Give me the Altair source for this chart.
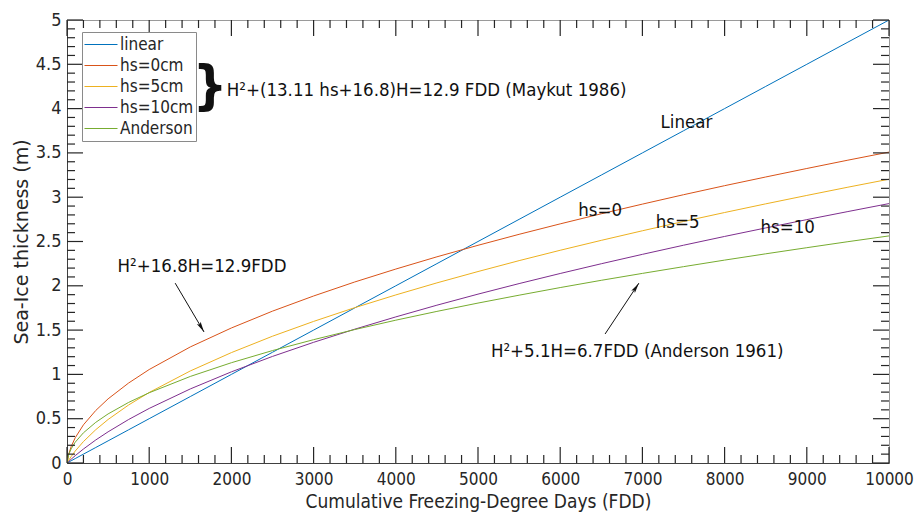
import altair as alt
import pandas as pd

# ---- data (FDD in degree-days, thickness in m) ----
fdd = [0, 20, 50, 100, 200, 350, 500, 750, 1000, 1500, 2000, 2500, 3000, 3500,
       4000, 4500, 5000, 5500, 6000, 6500, 7000, 7500, 8000, 8500, 9000, 9500, 10000]

linear = [0, 0.01, 0.025, 0.05, 0.1, 0.175, 0.25, 0.375, 0.5, 0.75, 1.0, 1.25, 1.5, 1.75,
          2.0, 2.25, 2.5, 2.75, 3.0, 3.25, 3.5, 3.75, 4.0, 4.25, 4.5, 4.75, 5.0]
hs0 = [0, 0.097, 0.184, 0.285, 0.431, 0.593, 0.724, 0.903, 1.055, 1.310, 1.524, 1.714, 1.885, 2.043,
       2.189, 2.327, 2.457, 2.581, 2.699, 2.813, 2.922, 3.028, 3.130, 3.228, 3.324, 3.418, 3.509]
hs5 = [0, 0.030, 0.072, 0.135, 0.242, 0.376, 0.491, 0.655, 0.796, 1.039, 1.246, 1.431, 1.598, 1.753,
       1.897, 2.033, 2.161, 2.284, 2.401, 2.513, 2.621, 2.726, 2.827, 2.925, 3.020, 3.113, 3.203]
hs10 = [0, 0.017, 0.042, 0.083, 0.158, 0.260, 0.352, 0.491, 0.616, 0.836, 1.029, 1.203, 1.362, 1.510,
        1.649, 1.781, 1.906, 2.025, 2.139, 2.249, 2.355, 2.458, 2.557, 2.653, 2.747, 2.838, 2.928]
anderson = [0, 0.093, 0.159, 0.235, 0.341, 0.459, 0.554, 0.684, 0.793, 0.977, 1.132, 1.269, 1.392, 1.506,
            1.612, 1.711, 1.805, 1.894, 1.980, 2.062, 2.140, 2.216, 2.290, 2.361, 2.430, 2.498, 2.563]

series_names = ["linear", "hs=0cm", "hs=5cm", "hs=10cm", "Anderson"]
series_vals = [linear, hs0, hs5, hs10, anderson]
series_colors = ["#0072BD", "#D95319", "#EDB120", "#7E2F8E", "#77AC30"]

x_major = [0, 1000, 2000, 3000, 4000, 5000, 6000, 7000, 8000, 9000, 10000]
x_minor = [200, 400, 600, 800, 1200, 1400, 1600, 1800, 2200, 2400, 2600, 2800, 3200, 3400, 3600,
           3800, 4200, 4400, 4600, 4800, 5200, 5400, 5600, 5800, 6200, 6400, 6600, 6800, 7200,
           7400, 7600, 7800, 8200, 8400, 8600, 8800, 9200, 9400, 9600, 9800]
y_major = [0, 0.5, 1, 1.5, 2, 2.5, 3, 3.5, 4, 4.5, 5]
y_minor = [0.1, 0.2, 0.3, 0.4, 0.6, 0.7, 0.8, 0.9, 1.1, 1.2, 1.3, 1.4, 1.6, 1.7, 1.8, 1.9,
           2.1, 2.2, 2.3, 2.4, 2.6, 2.7, 2.8, 2.9, 3.1, 3.2, 3.3, 3.4, 3.6, 3.7, 3.8, 3.9,
           4.1, 4.2, 4.3, 4.4, 4.6, 4.7, 4.8, 4.9]

# annotations (text, x in FDD, y in m)
ann_center_text = ["Linear", "hs=0", "hs=5", "hs=10", "H\u00b2+16.8H=12.9FDD"]
ann_center_x = [7536, 6486, 7428, 8768, 1643]
ann_center_y = [3.85, 2.856, 2.72, 2.66, 2.22]

ann_left_text = ["H\u00b2+(13.11 hs+16.8)H=12.9 FDD (Maykut 1986)", "H\u00b2+5.1H=6.7FDD (Anderson 1961)"]
ann_left_x = [1944, 5157]
ann_left_y = [4.21, 1.264]

brace_text = ["}"]
brace_x = [1739]
brace_y = [4.23]

arrow_x0 = [1316, 6546]
arrow_y0 = [2.03, 1.456]
arrow_x1 = [1667, 6957]
arrow_y1 = [1.479, 2.03]
arrow_angle = [149.4, 33.7]

# ---- build tables ----
rows = []
for name, vals in zip(series_names, series_vals):
    for f, h in zip(fdd, vals):
        rows.append({"FDD": f, "H": h, "series": name})
df = pd.DataFrame(rows)

W, H = 822, 443
X_MAX, Y_MAX = 10000, 5
FONT_C = "DejaVu Sans Condensed"
XS = alt.Scale(domain=[0, X_MAX], nice=False, zero=False)
YS = alt.Scale(domain=[0, Y_MAX], nice=False, zero=False)
TICK_COL = "#262626"
MAJ, MIN = 16, 8  # tick lengths in px

# inward tick segments on all four sides, expressed in data units
seg = []
for vals, length in ((x_major, MAJ), (x_minor, MIN)):
    dy = length * Y_MAX / H
    for v in vals:
        seg.append({"tx0": v, "tx1": v, "ty0": 0, "ty1": dy})
        seg.append({"tx0": v, "tx1": v, "ty0": Y_MAX, "ty1": Y_MAX - dy})
for vals, length in ((y_major, MAJ), (y_minor, MIN)):
    dx = length * X_MAX / W
    for v in vals:
        seg.append({"tx0": 0, "tx1": dx, "ty0": v, "ty1": v})
        seg.append({"tx0": X_MAX, "tx1": X_MAX - dx, "ty0": v, "ty1": v})
ticks_df = pd.DataFrame(seg)

lines = alt.Chart(df).mark_line(strokeWidth=1, clip=True).encode(
    x=alt.X("FDD:Q", scale=XS,
            axis=alt.Axis(values=x_major, format="d", title="Cumulative Freezing-Degree Days (FDD)",
                          grid=False, ticks=False, domain=True, domainColor="#404040",
                          labelFont=FONT_C, labelFontSize=17, labelColor="#262626",
                          labelPadding=8, labelFlush=False,
                          titleFont=FONT_C, titleFontSize=19, titleFontWeight="normal",
                          titleColor="#262626", titlePadding=5)),
    y=alt.Y("H:Q", scale=YS,
            axis=alt.Axis(values=y_major, format="~g", title="Sea-Ice thickness (m)",
                          grid=False, ticks=False, domain=True, domainColor="#404040",
                          labelFont=FONT_C, labelFontSize=18, labelColor="#262626",
                          labelPadding=6, labelFlush=False,
                          titleFont="DejaVu Sans", titleFontSize=19, titleFontWeight="normal",
                          titleColor="#262626", titlePadding=4)),
    color=alt.Color("series:N",
                    scale=alt.Scale(domain=series_names, range=series_colors),
                    sort=series_names,
                    legend=alt.Legend(title=None, orient="none", legendX=15, legendY=12,
                                      symbolType="stroke", symbolSize=1089, symbolStrokeWidth=1,
                                      labelFont=FONT_C, labelFontSize=17, labelColor="#262626",
                                      labelOffset=2, clipHeight=21, rowPadding=0,
                                      padding=2, strokeColor="#8a8a8a", fillColor="white")),
)

ticks = alt.Chart(ticks_df).mark_rule(color=TICK_COL, strokeWidth=1.2, opacity=1).encode(
    x=alt.X("tx0:Q", scale=XS), y=alt.Y("ty0:Q", scale=YS), x2="tx1:Q", y2="ty1:Q")

ann_c = alt.Chart(pd.DataFrame({"t": ann_center_text, "x": ann_center_x, "y": ann_center_y})).mark_text(
    font=FONT_C, fontSize=18.5, color="#111111", align="center", baseline="middle").encode(
    x=alt.X("x:Q", scale=XS), y=alt.Y("y:Q", scale=YS), text="t:N")

ann_l = alt.Chart(pd.DataFrame({"t": ann_left_text, "x": ann_left_x, "y": ann_left_y})).mark_text(
    font=FONT_C, fontSize=18.5, color="#111111", align="left", baseline="middle").encode(
    x=alt.X("x:Q", scale=XS), y=alt.Y("y:Q", scale=YS), text="t:N")

brace = alt.Chart(pd.DataFrame({"t": brace_text, "x": brace_x, "y": brace_y})).mark_text(
    font=FONT_C, fontSize=54, fontWeight="bold", color="#111111", align="center", baseline="middle").encode(
    x=alt.X("x:Q", scale=XS), y=alt.Y("y:Q", scale=YS), text="t:N")

arr_df = pd.DataFrame({"x0": arrow_x0, "y0": arrow_y0, "x1": arrow_x1, "y1": arrow_y1, "a": arrow_angle})
shafts = alt.Chart(arr_df).mark_rule(color="#111111", strokeWidth=1).encode(
    x=alt.X("x0:Q", scale=XS), y=alt.Y("y0:Q", scale=YS), x2="x1:Q", y2="y1:Q")
heads = alt.Chart(arr_df).mark_point(shape="M0,0L-0.42,2L0,1.6L0.42,2Z", filled=True, size=110,
                                     color="#111111", opacity=1).encode(
    x=alt.X("x1:Q", scale=XS), y=alt.Y("y1:Q", scale=YS), angle=alt.Angle("a:Q", scale=None))

chart = alt.layer(lines, ann_c, ann_l, brace, shafts, heads, ticks).properties(
    width=W, height=H,
    autosize=alt.AutoSizeParams(type="none"),
    padding={"left": 59, "top": 12, "right": 26, "bottom": 50},
    background="white",
).configure_view(stroke="#9a9a9a", strokeWidth=1)

chart.save("out.html", embed_options={"renderer": "svg", "actions": False})
